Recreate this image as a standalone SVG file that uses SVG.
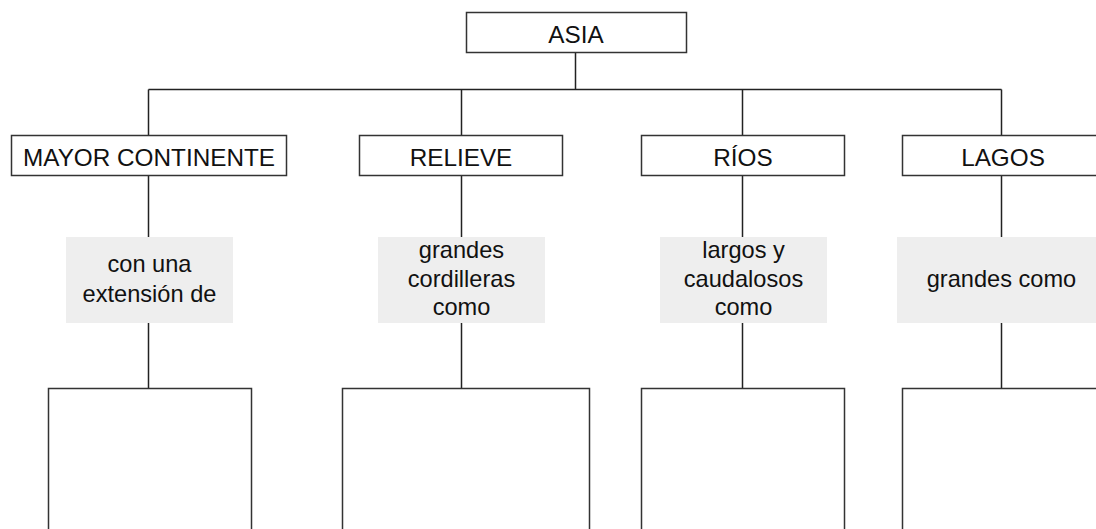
<svg xmlns="http://www.w3.org/2000/svg" width="1096" height="529" viewBox="0 0 1096 529">
<style>
.box{fill:#fff;stroke:#333;stroke-width:1.5}
.grey{fill:#eeeeee;stroke:none}
.line{stroke:#222;stroke-width:1.5;fill:none}
.h{font-family:"Liberation Sans",Arial,sans-serif;font-size:24.3px;fill:#111;text-anchor:middle}
.t{font-family:"Liberation Sans",Arial,sans-serif;font-size:23.6px;fill:#111;text-anchor:middle}
</style>
<rect width="1096" height="529" fill="#fff"/>
<g id="connectors">
<path class="line" d="M575.5 52V89.5M148.5 89.5H1001.5M148.5 89.5V135M461.5 89.5V135M742.5 89.5V135M1001.5 89.5V135"/>
<path class="line" d="M148.5 175V237M148.5 323V388M461.5 175V237M461.5 323V388M742.5 175V237M742.5 323V388M1001.5 175V237M1001.5 323V388"/>
</g>
<g id="asia"><rect class="box" x="466.5" y="12.5" width="220" height="40"/><text class="h" x="576" y="43">ASIA</text></g>
<g id="mayor"><rect class="box" x="11.5" y="135.5" width="275" height="40"/><text class="h" x="149" y="166">MAYOR CONTINENTE</text></g>
<g id="relieve"><rect class="box" x="359.5" y="135.5" width="203" height="40"/><text class="h" x="461" y="166">RELIEVE</text></g>
<g id="rios"><rect class="box" x="641.5" y="135.5" width="203" height="40"/><text class="h" x="743" y="166">RÍOS</text></g>
<g id="lagos"><rect class="box" x="902.5" y="135.5" width="210" height="40"/><text class="h" x="1003" y="166">LAGOS</text></g>
<g id="g1"><rect class="grey" x="66" y="237" width="167" height="86"/><text class="t" x="149.5" y="272">con una</text><text class="t" x="149.5" y="302">extensión de</text></g>
<g id="g2"><rect class="grey" x="378" y="237" width="167" height="86"/><text class="t" x="461.5" y="258">grandes</text><text class="t" x="461.5" y="287">cordilleras</text><text class="t" x="461.5" y="315">como</text></g>
<g id="g3"><rect class="grey" x="660" y="237" width="167" height="86"/><text class="t" x="743.5" y="258">largos y</text><text class="t" x="743.5" y="287">caudalosos</text><text class="t" x="743.5" y="315">como</text></g>
<g id="g4"><rect class="grey" x="897" y="237" width="210" height="86"/><text class="t" x="1001.5" y="287">grandes como</text></g>
<g id="b1"><rect class="box" x="48.5" y="388.5" width="203" height="160"/></g>
<g id="b2"><rect class="box" x="342.5" y="388.5" width="247" height="160"/></g>
<g id="b3"><rect class="box" x="641.5" y="388.5" width="203" height="160"/></g>
<g id="b4"><rect class="box" x="902.5" y="388.5" width="210" height="160"/></g>
</svg>
